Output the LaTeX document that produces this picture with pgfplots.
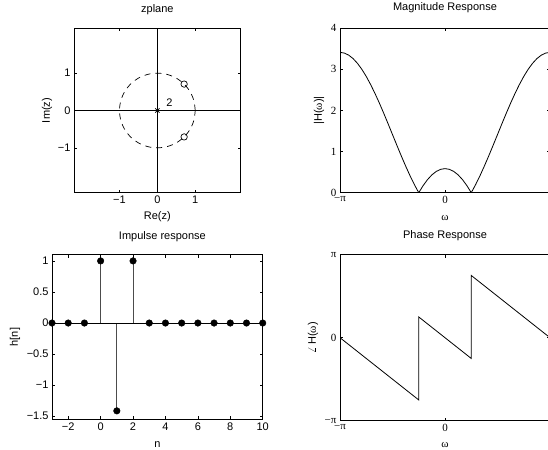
\documentclass[border=0pt]{standalone}
\usepackage{pgfplots}
\pgfplotsset{compat=1.18}
\usepackage{fontspec}
\setmainfont{Liberation Sans}
\newfontfamily\serif{Liberation Serif}
\newcommand\fs{\fontsize{11bp}{13bp}\selectfont}
\begin{document}
\begin{tikzpicture}
\useasboundingbox (0bp,0bp) rectangle (548bp,450bp);
\begin{scope}
\clip (0bp,0bp) rectangle (548bp,450bp);
\pgfplotsset{
  every axis/.append style={
    scale only axis,
    axis line style={line width=0.9bp},
    tick align=inside,
    major tick length=3bp,
    every tick/.style={black, line width=0.6bp},
    tick label style={font=\fs},
    label style={font=\fs},
    title style={font=\fs, anchor=center},
    xlabel style={anchor=center},
    ylabel style={anchor=center},
  }
}
% ---------- zplane ----------
\begin{axis}[
  at={(74bp,257.3bp)}, anchor=south west,
  width=166.7bp, height=164.4bp,
  xmin=-2.2, xmax=2.2, ymin=-2.2, ymax=2.2,
  xtick={-1,0,1}, ytick={-1,0,1},
  xticklabels={−1,0,1}, yticklabels={−1,0,1},
  title={zplane}, title style={at={(axis description cs:0.5,1.075)}},
  xlabel={Re(z)}, xlabel style={at={(axis description cs:0.5,-0.148)}},
  ylabel={Im(z)}, ylabel style={at={(axis description cs:-0.162,0.5)}},
]
\addplot[black, line width=0.8bp] coordinates {(-2.2,0) (2.2,0)};
\addplot[black, line width=0.8bp] coordinates {(0,-2.2) (0,2.2)};
\addplot[black, line width=0.7bp, dash pattern=on 6bp off 5bp, smooth] coordinates {
(1,0) (0.9659,0.2588) (0.8660,0.5) (0.7071,0.7071) (0.5,0.8660) (0.2588,0.9659)
(0,1) (-0.2588,0.9659) (-0.5,0.8660) (-0.7071,0.7071) (-0.8660,0.5) (-0.9659,0.2588)
(-1,0) (-0.9659,-0.2588) (-0.8660,-0.5) (-0.7071,-0.7071) (-0.5,-0.8660) (-0.2588,-0.9659)
(0,-1) (0.2588,-0.9659) (0.5,-0.8660) (0.7071,-0.7071) (0.8660,-0.5) (0.9659,-0.2588) (1,0)};
\addplot[only marks, mark=o, mark size=3.2bp, black, mark options={line width=0.7bp}] coordinates {(0.7071,0.7071) (0.7071,-0.7071)};
\addplot[only marks, mark=x, mark size=3bp, black, mark options={line width=0.8bp}] coordinates {(0,0)};
\node[font=\fs] at (axis cs:0.32,0.22) {2};
\end{axis}
% ---------- magnitude ----------
\begin{axis}[
  at={(340bp,257.3bp)}, anchor=south west,
  width=210bp, height=164.4bp,
  xmin=-3.14159, xmax=3.14159, ymin=0, ymax=4,
  xtick={-3.14159,0,3.14159}, xticklabels={−π,0,},
  ytick={0,1,2,3,4},
  yticklabels={0,1,2,3,4},
  tick label style={font=\fs\serif},
  title={Magnitude Response}, title style={at={(axis description cs:0.5,1.087)}},
  xlabel={\serif ω}, xlabel style={at={(axis description cs:0.5,-0.154)}},
  ylabel={|H({\serif ω})|}, ylabel style={at={(axis description cs:-0.1,0.5)}},
]
\addplot[black, line width=0.8bp] coordinates {
(-3.1416,3.41421) (-3.0107,3.39710) (-2.8798,3.34606) (-2.7489,3.26197) (-2.6180,3.14626)
(-2.4871,3.00092) (-2.3562,2.82843) (-2.2253,2.63092) (-2.0944,2.41421) (-1.9635,2.17958)
(-1.8326,1.93185) (-1.7017,1.67526) (-1.5708,1.41421) (-1.4399,1.15316) (-1.3090,0.89657)
(-1.1781,0.64884) (-1.0472,0.41421) (-0.9163,0.19669) (-0.7854,0) (-0.6545,0.17249)
(-0.5236,0.31784) (-0.3927,0.43355) (-0.2618,0.51764) (-0.1309,0.56868) (0,0.58579)
(0.1309,0.56868) (0.2618,0.51764) (0.3927,0.43355) (0.5236,0.31784) (0.6545,0.17249)
(0.7854,0) (0.9163,0.19669) (1.0472,0.41421) (1.1781,0.64884) (1.3090,0.89657)
(1.4399,1.15316) (1.5708,1.41421) (1.7017,1.67526) (1.8326,1.93185) (1.9635,2.17958)
(2.0944,2.41421) (2.2253,2.63092) (2.3562,2.82843) (2.4871,3.00092) (2.6180,3.14626)
(2.7489,3.26197) (2.8798,3.34606) (3.0107,3.39710) (3.1416,3.41421)};
\end{axis}
% ---------- impulse ----------
\begin{axis}[
  at={(52bp,30.7bp)}, anchor=south west,
  width=210.7bp, height=164.6bp,
  xmin=-3, xmax=10, ymin=-1.55, ymax=1.1,
  clip=false,
  xtick={-2,0,2,4,6,8,10}, xticklabels={−2,0,2,4,6,8,10},
  ytick={-1.5,-1,-0.5,0,0.5,1}, yticklabels={−1.5,−1,−0.5,0,0.5,1},
  title={Impulse response}, title style={at={(axis description cs:0.524,1.075)}},
  xlabel={n}, xlabel style={at={(axis description cs:0.5,-0.151)}},
  ylabel={h[n]}, ylabel style={at={(axis description cs:-0.176,0.5)}},
]
\addplot[ycomb, gray!60!black, line width=0.7bp] coordinates {(0,1) (1,-1.4142) (2,1)};
\addplot[black, line width=0.8bp] coordinates {(-3,0) (10,0)};
\addplot[only marks, mark=*, mark size=3.3bp, black] coordinates {
(-3,0) (-2,0) (-1,0) (0,1) (1,-1.4142) (2,1) (3,0) (4,0) (5,0) (6,0) (7,0) (8,0) (9,0) (10,0)};
\end{axis}
% ---------- phase ----------
\begin{axis}[
  at={(340bp,29.3bp)}, anchor=south west,
  width=210bp, height=166bp,
  xmin=-3.14159, xmax=3.14159, ymin=-3.14159, ymax=3.14159,
  xtick={-3.14159,0,3.14159}, xticklabels={−π,0,},
  ytick={-3.14159,0,3.14159}, yticklabels={−π,0,π},
  tick label style={font=\fs\serif},
  title={Phase Response}, title style={at={(axis description cs:0.5,1.078)}},
  xlabel={\serif ω}, xlabel style={at={(axis description cs:0.5,-0.146)}},
  ylabel={$\angle$\,H({\serif ω})}, ylabel style={at={(axis description cs:-0.129,0.5)}},
]
\addplot[black, line width=0.8bp] coordinates {
(-3.1416,0) (-0.7854,-2.3562) (-0.7854,0.7854) (0.7854,-0.7854) (0.7854,2.3562) (3.1416,0)};
\end{axis}
\end{scope}
\end{tikzpicture}
\end{document}
